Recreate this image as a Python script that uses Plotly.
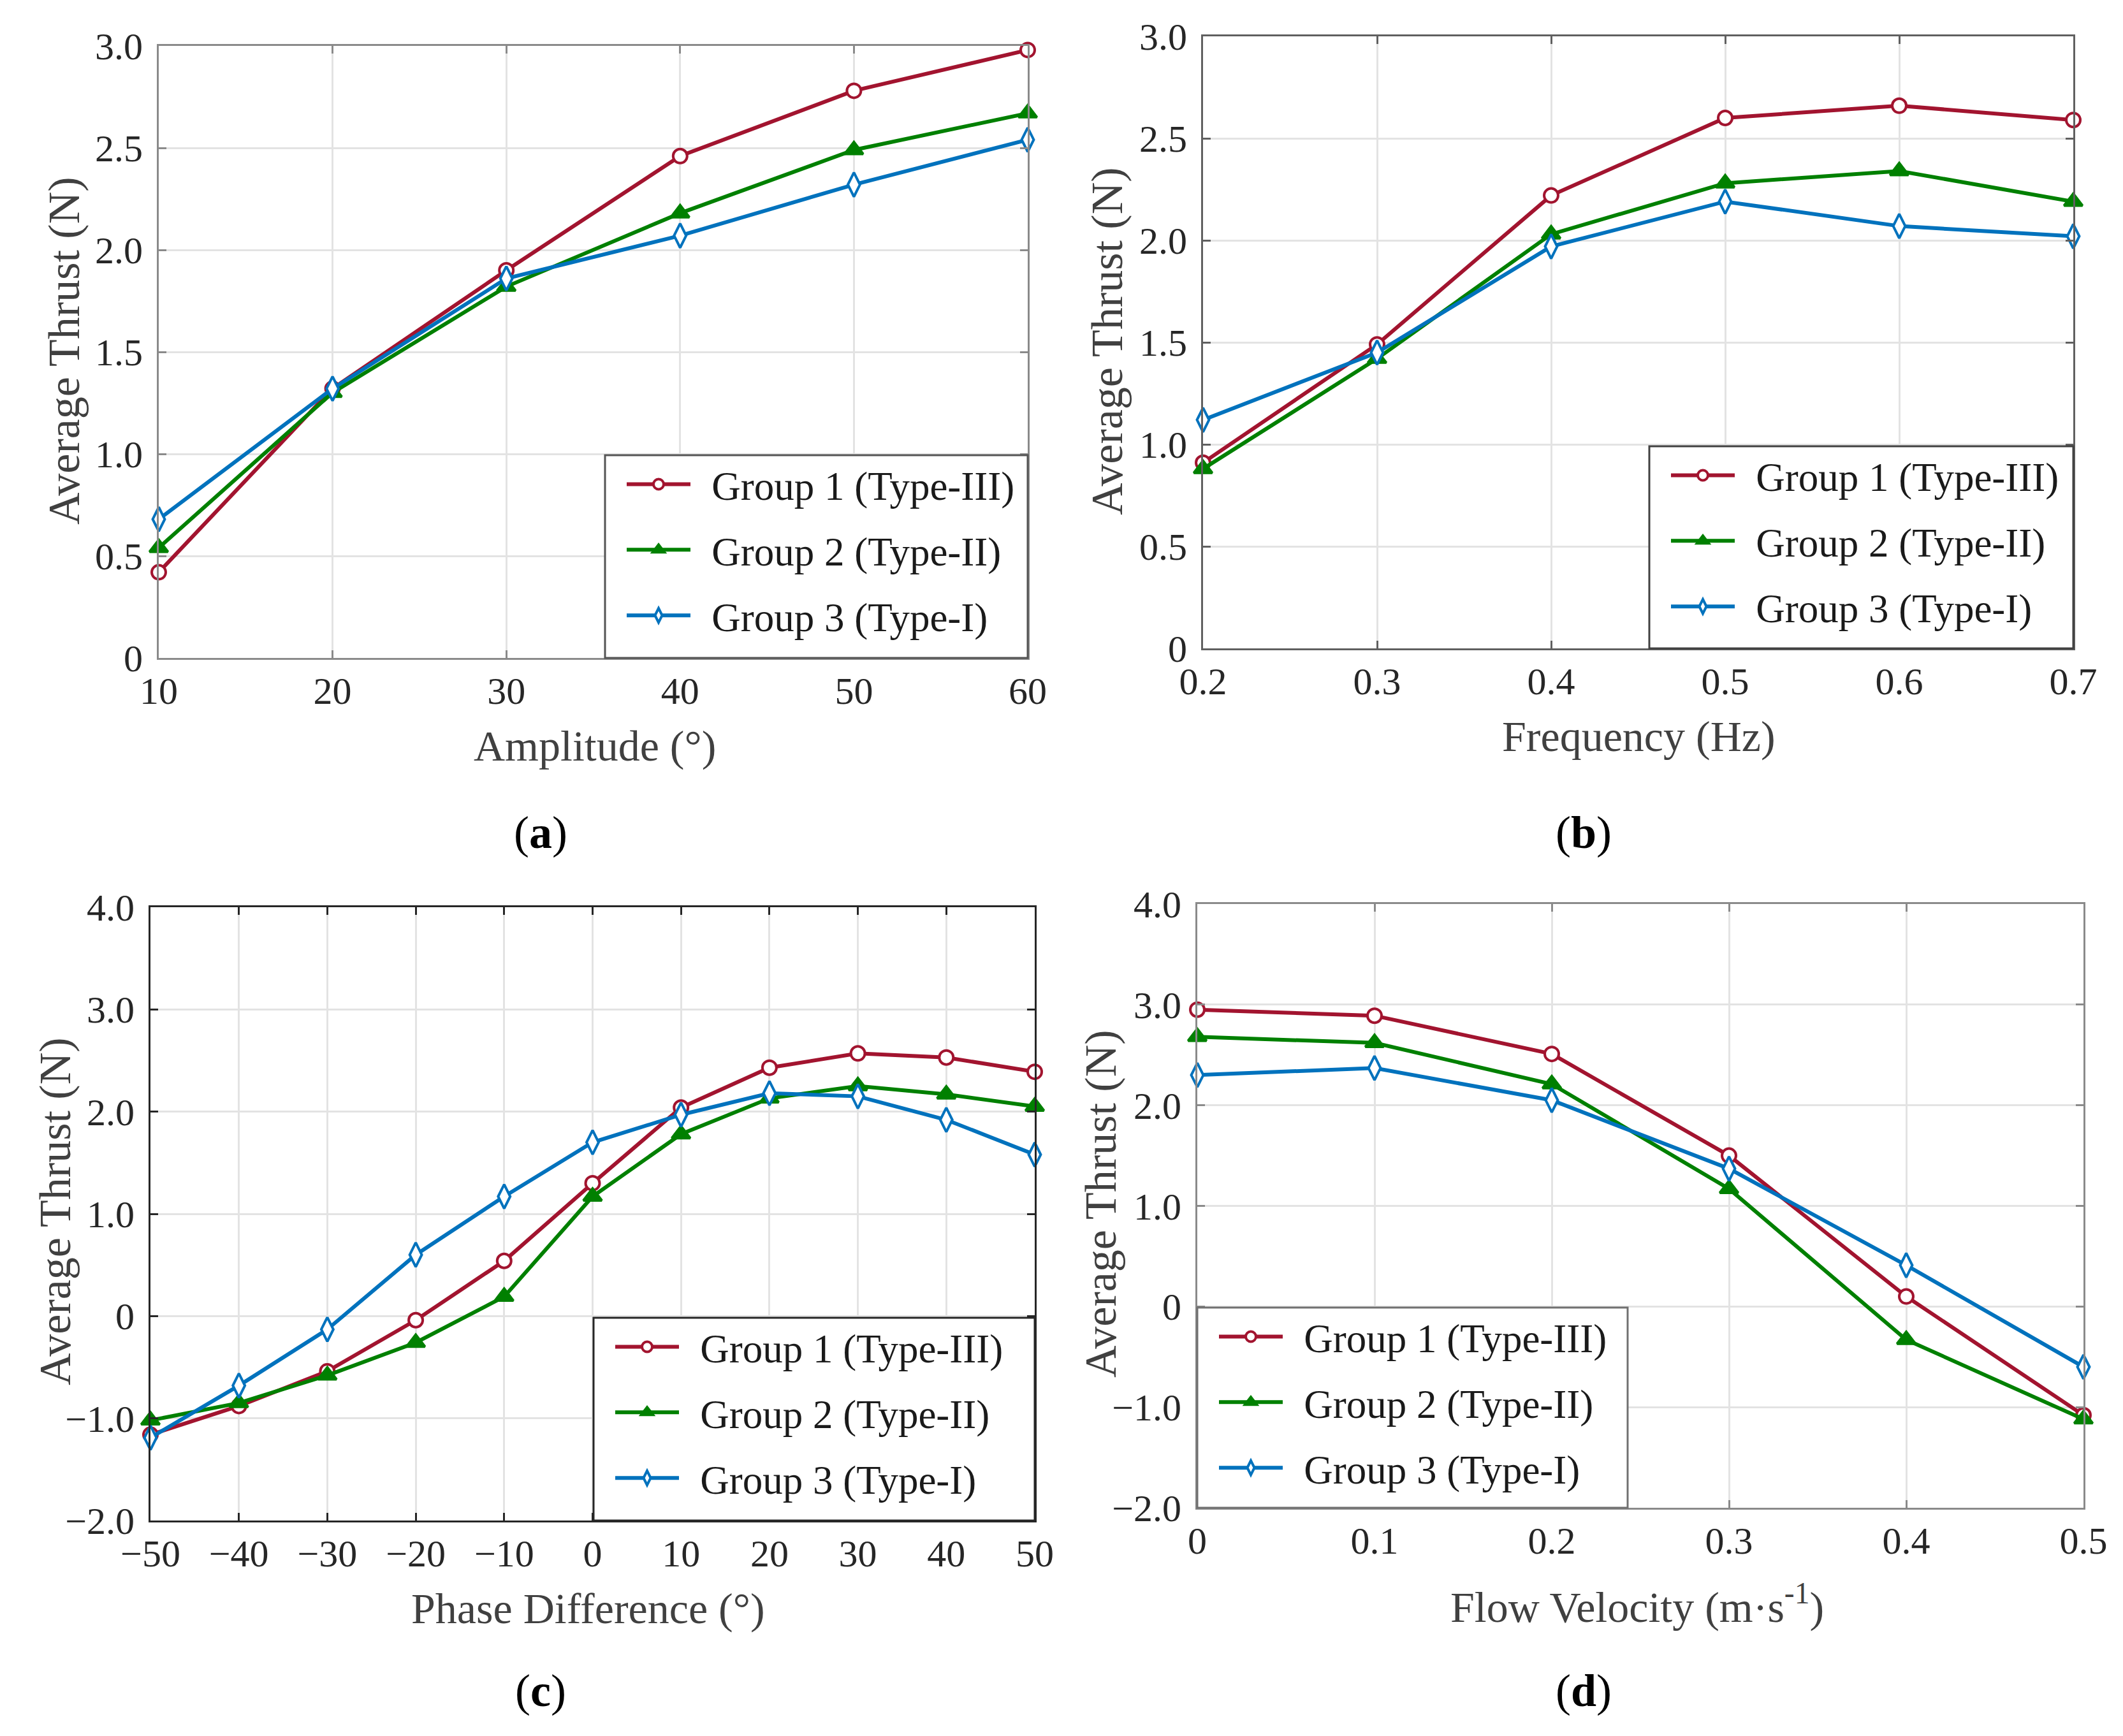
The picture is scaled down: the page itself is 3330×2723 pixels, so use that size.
import plotly.graph_objects as go

W, H = 3330, 2723
OFF = 8  # page margin around the figure div
FONT = "Liberation Serif"

names = ["Group 1 (Type-III)", "Group 2 (Type-II)", "Group 3 (Type-I)"]
colors = ["#A2142F", "#008000", "#0072BD"]

# (a) amplitude
amp_x = [10, 20, 30, 40, 50, 60]
amp_g1 = [0.42, 1.32, 1.90, 2.46, 2.78, 2.98]
amp_g2 = [0.54, 1.30, 1.82, 2.18, 2.49, 2.67]
amp_g3 = [0.68, 1.32, 1.86, 2.07, 2.32, 2.54]

# (b) frequency
freq_x = [0.2, 0.3, 0.4, 0.5, 0.6, 0.7]
freq_g1 = [0.91, 1.49, 2.22, 2.60, 2.66, 2.59]
freq_g2 = [0.88, 1.42, 2.03, 2.28, 2.34, 2.19]
freq_g3 = [1.12, 1.45, 1.97, 2.19, 2.07, 2.02]

# (c) phase difference
phase_x = [-50, -40, -30, -20, -10, 0, 10, 20, 30, 40, 50]
phase_g1 = [-1.16, -0.88, -0.54, -0.04, 0.54, 1.30, 2.04, 2.43, 2.57, 2.53, 2.39]
phase_g2 = [-1.02, -0.85, -0.58, -0.26, 0.19, 1.17, 1.78, 2.13, 2.25, 2.17, 2.05]
phase_g3 = [-1.19, -0.68, -0.13, 0.60, 1.17, 1.70, 1.97, 2.18, 2.15, 1.92, 1.58]

# (d) flow velocity
flow_x = [0, 0.1, 0.2, 0.3, 0.4, 0.5]
flow_g1 = [2.95, 2.89, 2.51, 1.50, 0.10, -1.08]
flow_g2 = [2.68, 2.62, 2.21, 1.17, -0.33, -1.12]
flow_g3 = [2.30, 2.37, 2.05, 1.37, 0.41, -0.60]

# tick labels
yt_ab = [0, 0.5, 1.0, 1.5, 2.0, 2.5, 3.0]
yl_ab = ["0", "0.5", "1.0", "1.5", "2.0", "2.5", "3.0"]
yt_cd = [-2, -1, 0, 1, 2, 3, 4]
yl_cd = ["\u22122.0", "\u22121.0", "0", "1.0", "2.0", "3.0", "4.0"]
xl_a = ["10", "20", "30", "40", "50", "60"]
xl_b = ["0.2", "0.3", "0.4", "0.5", "0.6", "0.7"]
xl_c = ["\u221250", "\u221240", "\u221230", "\u221220", "\u221210", "0",
        "10", "20", "30", "40", "50"]
xl_d = ["0", "0.1", "0.2", "0.3", "0.4", "0.5"]


def px(x):
    return (x - OFF) / W


def py(y):
    return 1 - (y - OFF) / H


# pixel geometry of each panel: axes box (l, r, t, b), legend box (l, r, t, b)
panels = [
    dict(x=amp_x, ys=[amp_g1, amp_g2, amp_g3], box=(249, 1612, 72, 1032),
         legbox=(949, 1612, 714, 1032),
         xr=[10, 60], yr=[0, 3], xl=xl_a, yt=yt_ab, yl=yl_ab,
         xtitle="Amplitude (\u00b0)", xt_xy=(933, 1170), yt_xy=(100, 550),
         axcol="#8a8a8a", legcol="#555555",
         label="(<b>a</b>)", lab_xy=(848, 1306)),
    dict(x=freq_x, ys=[freq_g1, freq_g2, freq_g3], box=(1887, 3252, 57, 1017),
         legbox=(2587, 3252, 700, 1017),
         xr=[0.2, 0.7], yr=[0, 3], xl=xl_b, yt=yt_ab, yl=yl_ab,
         xtitle="Frequency (Hz)", xt_xy=(2570, 1155), yt_xy=(1736, 535),
         axcol="#606060", legcol="#404040",
         label="(<b>b</b>)", lab_xy=(2484, 1306)),
    dict(x=phase_x, ys=[phase_g1, phase_g2, phase_g3], box=(236, 1623, 1423, 2385),
         legbox=(931, 1623, 2067, 2385),
         xr=[-50, 50], yr=[-2, 4], xl=xl_c, yt=yt_cd, yl=yl_cd,
         xtitle="Phase Difference (\u00b0)", xt_xy=(922, 2523), yt_xy=(86, 1900),
         axcol="#262626", legcol="#262626",
         label="(<b>c</b>)", lab_xy=(848, 2652)),
    dict(x=flow_x, ys=[flow_g1, flow_g2, flow_g3], box=(1878, 3268, 1418, 2365),
         legbox=(1878, 2553, 2051, 2365),
         xr=[0, 0.5], yr=[-2, 4], xl=xl_d, yt=yt_cd, yl=yl_cd,
         xtitle="Flow Velocity (m\u00b7s<sup>-1</sup>)", xt_xy=(2568, 2516),
         yt_xy=(1726, 1888),
         axcol="#8a8a8a", legcol="#707070",
         label="(<b>d</b>)", lab_xy=(2484, 2652)),
]

symbols = ["circle", "triangle-up", "diamond-tall"]
fills = ["white", colors[1], "white"]
sizes = [22, 25, 27]

fig = go.Figure()
layout = dict(width=W, height=H, autosize=False,
              margin=dict(l=0, r=0, t=0, b=0, pad=0),
              paper_bgcolor="white", plot_bgcolor="white",
              font=dict(family=FONT, size=60, color="#262626"),
              annotations=[], shapes=[])


def text(s, x, y, size, color="#404040", angle=0):
    return dict(text=s, x=px(x), y=py(y), xref="paper", yref="paper",
                xanchor="center", yanchor="middle", showarrow=False,
                textangle=angle, font=dict(size=size, color=color))


for i, p in enumerate(panels):
    n = "" if i == 0 else str(i + 1)
    l, r, t, b = p["box"]
    dx = [px(l), px(r)]
    dy = [py(b), py(t)]
    legname = "legend" + n
    for k in range(3):
        fig.add_trace(go.Scatter(
            x=p["x"], y=p["ys"][k], name="\u00a0\u2009" + names[k],
            mode="lines+markers", cliponaxis=False,
            line=dict(color=colors[k], width=6),
            marker=dict(symbol=symbols[k], size=sizes[k], color=fills[k],
                        line=dict(color=colors[k], width=4)),
            xaxis="x" + n, yaxis="y" + n, legend=legname,
            legendgroup=f"{i}-{k}", showlegend=True))
    common = dict(showgrid=True, gridcolor="#e3e3e3", gridwidth=3,
                  showline=True, linecolor=p["axcol"], linewidth=3, mirror="ticks",
                  ticks="inside", ticklen=12, tickwidth=3, tickcolor=p["axcol"],
                  zeroline=False, automargin=False,
                  tickfont=dict(size=60, color="#262626"))
    layout["xaxis" + n] = dict(common, domain=dx, range=p["xr"], anchor="y" + n,
                               tickvals=p["x"], ticktext=p["xl"],
                               ticklabelstandoff=-3)
    layout["yaxis" + n] = dict(common, domain=dy, range=p["yr"], anchor="x" + n,
                               tickvals=p["yt"], ticktext=p["yl"],
                               ticklabelstandoff=10)

    # legend frame drawn as a shape so its size matches the original
    ll, lr, lt, lb = p["legbox"]
    layout["shapes"].append(dict(type="rect", xref="paper", yref="paper",
                                 x0=px(ll), x1=px(lr), y0=py(lb), y1=py(lt),
                                 fillcolor="white", layer="above",
                                 line=dict(color=p["legcol"], width=3)))
    layout[legname] = dict(x=px(ll + 29), xanchor="left", y=py(lt - 2), yanchor="top",
                           bgcolor="rgba(0,0,0,0)", borderwidth=0,
                           font=dict(size=63, color="#1a1a1a"),
                           itemwidth=100, tracegroupgap=18,
                           traceorder="grouped")

    layout["annotations"].append(text(p["xtitle"], *p["xt_xy"], 68))
    layout["annotations"].append(text("Average Thrust (N)", *p["yt_xy"], 70, angle=-90))
    layout["annotations"].append(text(p["label"], *p["lab_xy"], 72, color="black"))

fig.update_layout(**layout)
fig.write_html("out.html")
